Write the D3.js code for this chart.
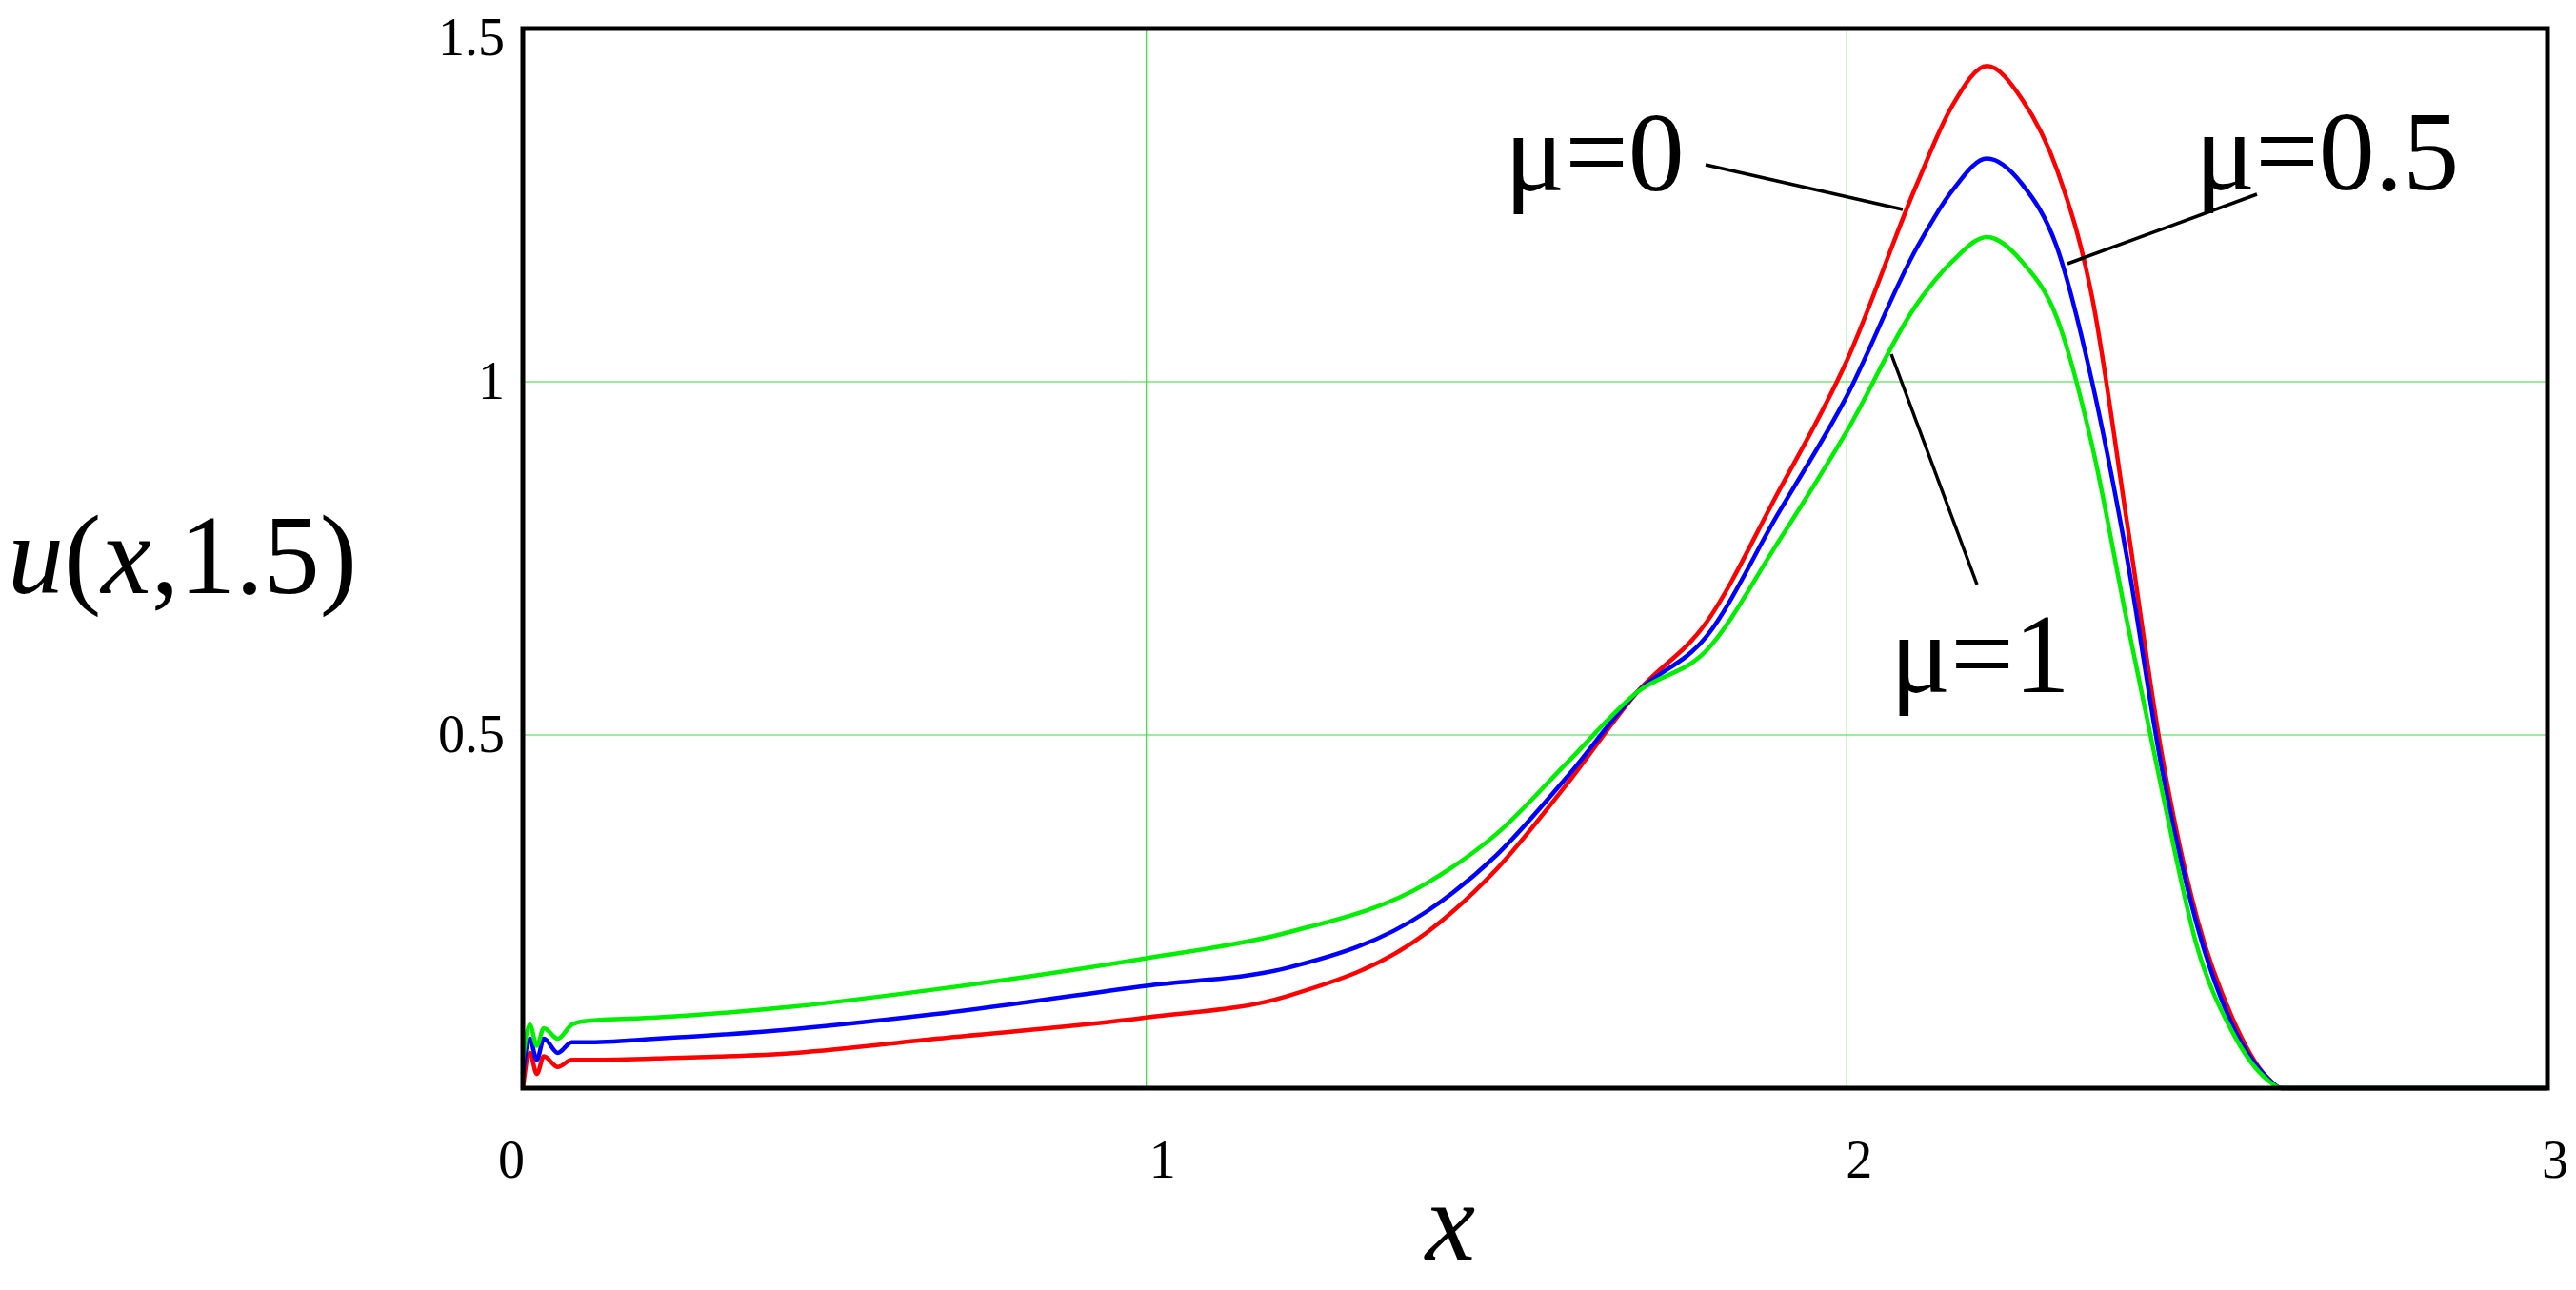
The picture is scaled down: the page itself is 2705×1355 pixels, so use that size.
<!DOCTYPE html>
<html>
<head>
<meta charset="utf-8">
<script src="https://cdn.jsdelivr.net/npm/d3@7"></script>
<style>
  body { margin: 0; background: #fff; }
  text { font-family: "Liberation Serif", "DejaVu Serif", serif; fill: #000; }
</style>
</head>
<body>
<svg width="2705" height="1355"></svg>
<script>
var xs    = [0.11, 0.12, 0.13, 0.14, 0.16, 0.18, 0.2, 0.3, 0.5, 0.7, 1.0, 1.2, 1.4, 1.5, 1.6, 1.7, 1.8, 1.9, 2.0, 2.1, 2.15, 2.2, 2.25, 2.3, 2.35, 2.4, 2.45, 2.5, 2.55, 2.6, 2.62, 3.0];
var mu0   = [0.00, 0.05, 0.02, 0.045, 0.03, 0.04, 0.04, 0.042, 0.05, 0.07, 0.10, 0.13, 0.22, 0.31, 0.43, 0.56, 0.66, 0.84, 1.03, 1.28, 1.39, 1.447, 1.40, 1.30, 1.12, 0.80, 0.47, 0.24, 0.10, 0.015, 0, 0];
var mu05  = [0.02, 0.07, 0.04, 0.07, 0.05, 0.065, 0.065, 0.07, 0.084, 0.105, 0.145, 0.17, 0.25, 0.33, 0.44, 0.56, 0.64, 0.81, 0.98, 1.19, 1.27, 1.316, 1.28, 1.19, 1.00, 0.75, 0.45, 0.23, 0.09, 0.015, 0, 0];
var mu1   = [0.04, 0.09, 0.06, 0.085, 0.07, 0.09, 0.095, 0.10, 0.116, 0.14, 0.184, 0.22, 0.29, 0.36, 0.46, 0.56, 0.62, 0.77, 0.93, 1.11, 1.17, 1.205, 1.17, 1.09, 0.91, 0.66, 0.42, 0.20, 0.08, 0.012, 0, 0];
var seriesNames = ["μ=0", "μ=0.5", "μ=1"];
var seriesColors = ["#ff0000", "#0000ff", "#00ee00"];
var xTickLabels = ["0", "1", "2", "3"];
var yTickValues = [0.5, 1, 1.5];

var svg = d3.select("svg");
var pLeft = 549, pRight = 2675, pTop = 30, pBottom = 1143;

var x = d3.scaleLinear().domain([0.11, 3]).range([pLeft, pRight]);
var y = d3.scaleLinear().domain([0, 1.5]).range([pBottom, pTop]);

// grid
svg.selectAll(".gx").data([1, 2]).enter().append("line")
  .attr("x1", d => x(d)).attr("x2", d => x(d)).attr("y1", pTop).attr("y2", pBottom)
  .attr("stroke", "#33dd33").attr("stroke-width", 1.2);
svg.selectAll(".gy").data([0.5, 1]).enter().append("line")
  .attr("x1", pLeft).attr("x2", pRight).attr("y1", d => y(d)).attr("y2", d => y(d))
  .attr("stroke", "#33dd33").attr("stroke-width", 1.2);

// curves
var line = d3.line().x(d => x(d[0])).y(d => y(d[1])).curve(d3.curveMonotoneX);
[mu0, mu05, mu1].forEach(function(vals, i) {
  svg.append("path")
    .datum(xs.map((v, j) => [v, vals[j]]))
    .attr("d", line)
    .attr("fill", "none")
    .attr("stroke", seriesColors[i])
    .attr("stroke-width", 4.5);
});

// frame
svg.append("rect").attr("x", pLeft).attr("y", pTop)
  .attr("width", pRight - pLeft).attr("height", pBottom - pTop)
  .attr("fill", "none").attr("stroke", "#000").attr("stroke-width", 5);

// tick labels
var xLabelPos = [pLeft - 12, x(1) + 17, x(2) + 13, pRight + 8];
xTickLabels.forEach(function(t, i) {
  svg.append("text").attr("x", xLabelPos[i]).attr("y", 1237)
    .attr("text-anchor", "middle").attr("font-size", 56).text(t);
});
yTickValues.forEach(function(v) {
  svg.append("text").attr("x", 530).attr("y", y(v) + (v == 1.5 ? 28 : 18))
    .attr("text-anchor", "end").attr("font-size", 56).text(v);
});

// axis titles
var yt = svg.append("text").attr("x", 8).attr("y", 623).attr("font-size", 118);
yt.append("tspan").attr("font-style", "italic").text("u");
yt.append("tspan").text("(");
yt.append("tspan").attr("font-style", "italic").text("x");
yt.append("tspan").text(",1.5)");
svg.append("text").attr("x", 1523).attr("y", 1323).attr("text-anchor", "middle")
  .attr("font-size", 118).attr("font-style", "italic").text("x");

// annotations
var notes = [
  {tx: 1580, ty: 200, lx1: 1791, ly1: 173, lx2: 1998, ly2: 220},
  {tx: 2305, ty: 199, lx1: 2370, ly1: 204, lx2: 2171, ly2: 277},
  {tx: 1985, ty: 727, lx1: 2076, ly1: 614, lx2: 1986, ly2: 372}
];
notes.forEach(function(n, i) {
  svg.append("line").attr("x1", n.lx1).attr("y1", n.ly1).attr("x2", n.lx2).attr("y2", n.ly2)
    .attr("stroke", "#000").attr("stroke-width", 3.5);
  svg.append("text").attr("x", n.tx).attr("y", n.ty).attr("font-size", 118).text(seriesNames[i]);
});
</script>
</body>
</html>
